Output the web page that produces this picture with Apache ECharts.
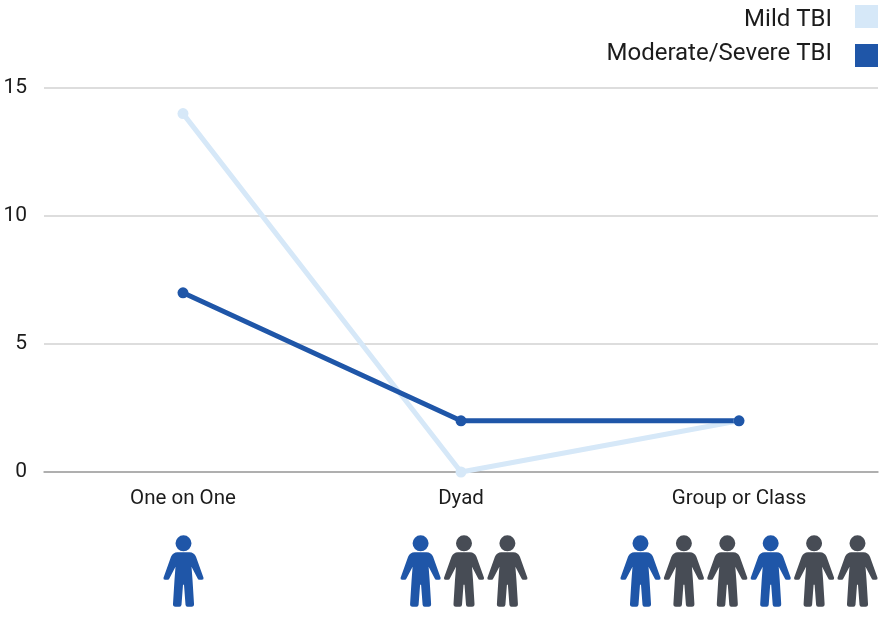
<!DOCTYPE html>
<html>
<head>
<meta charset="utf-8">
<style>
  html, body { margin: 0; padding: 0; background: #fff; }
  #chart { width: 882px; height: 621px; }
</style>
<script src="https://cdn.jsdelivr.net/npm/echarts@6/dist/echarts.min.js"></script>
</head>
<body>
<div id="chart"></div>
<script>
const categories = ['One on One', 'Dyad', 'Group or Class']
const mildTbi = [14, 0, 2]
const severeTbi = [7, 2, 2]
const yTicks = [0, 5, 10, 15]
// b = blue figure, g = grey figure, one row per category
const people = [['b'], ['b', 'g', 'g'], ['b', 'g', 'g', 'b', 'g', 'g']]

const BLUE = '#1f56a8'
const LIGHT = '#d6e8f8'
const GREY = '#474c55'
const FONT = 'Roboto'
const INK = '#1c1c1c'

const personPath = 'M0,-36.5 a8,8 0 1,1 -0.01,0 Z ' +
  'M-6,-19.5 L6,-19.5 Q10.5,-19.5 12.5,-15 L20,6 Q20.5,8 18.5,8 L16,8 Q14.5,8 14,6.5 L8,-5 ' +
  'L9,8 L10.5,32 Q10.8,35 8,35 L4,35 Q2.2,35 2,33 L0.5,13 L-0.5,13 L-2,33 Q-2.2,35 -4,35 ' +
  'L-8,35 Q-10.8,35 -10.5,32 L-9,8 L-8,-5 L-14,6.5 Q-14.5,8 -16,8 L-18.5,8 Q-20.5,8 -20,6 L-12.5,-15 Q-10.5,-19.5 -6,-19.5 Z'

const peopleData = []
people.forEach(function (row, c) {
  row.forEach(function (kind, i) {
    peopleData.push([c, i, row.length, kind === 'b' ? 1 : 0])
  })
})

const chart = echarts.init(document.getElementById('chart'))
chart.setOption({
  backgroundColor: '#fff',
  animation: false,
  textStyle: { fontFamily: FONT },
  legend: {
    orient: 'vertical',
    padding: 0,
    right: 4,
    top: 5,
    align: 'right',
    icon: 'rect',
    itemWidth: 23,
    itemHeight: 23,
    itemGap: 10,
    selectedMode: false,
    data: ['Mild TBI', 'Moderate/Severe TBI'],
    formatter: function (name) {
      return name === 'Mild TBI' ? '{m|' + name + '}' : '{s|' + name + '}'
    },
    textStyle: {
      fontFamily: FONT,
      fontSize: 24,
      color: INK,
      padding: [0, 18, 0, 0],
      rich: {
        m: { fontFamily: FONT, fontSize: 24, color: INK, padding: [6, 0, 0, 0] },
        s: { fontFamily: FONT, fontSize: 24, color: INK, padding: [0, 0, 4, 0] }
      }
    }
  },
  grid: { left: 44, right: 4, top: 88, bottom: 149 },
  xAxis: {
    type: 'category',
    data: categories,
    axisLine: { show: true, lineStyle: { color: '#a0a0a0', width: 1.5 } },
    axisTick: { show: false },
    axisLabel: { fontFamily: FONT, fontSize: 20.5, color: INK, margin: 16 }
  },
  yAxis: {
    type: 'value',
    min: yTicks[0],
    max: yTicks[yTicks.length - 1],
    interval: 5,
    axisLine: { show: false },
    axisTick: { show: false },
    axisLabel: { fontFamily: FONT, fontSize: 21, color: INK, margin: 17 },
    splitLine: { lineStyle: { color: '#d2d2d2', width: 1.5 } }
  },
  series: [
    {
      name: 'Mild TBI',
      type: 'line',
      data: mildTbi,
      symbol: 'circle',
      symbolSize: 11,
      lineStyle: { color: LIGHT, width: 5 },
      itemStyle: { color: LIGHT }
    },
    {
      name: 'Moderate/Severe TBI',
      type: 'line',
      data: severeTbi,
      symbol: 'circle',
      symbolSize: 11,
      lineStyle: { color: BLUE, width: 5 },
      itemStyle: { color: BLUE }
    },
    {
      // little people under each category
      type: 'custom',
      clip: false,
      silent: true,
      legendHoverLink: false,
      encode: { x: 0 },
      data: peopleData,
      renderItem: function (params, api) {
        const cat = api.value(0)
        const idx = api.value(1)
        const count = api.value(2)
        const base = api.coord([cat, -3.9])
        const shift = [0.5, 3, 10][cat]
        const x = base[0] + shift + (idx - (count - 1) / 2) * 43.4
        return {
          type: 'path',
          x: x,
          y: base[1],
          shape: {
            pathData: personPath,
            layout: 'center',
            x: -20.2,
            y: -36.5,
            width: 40.4,
            height: 71.5
          },
          style: { fill: api.value(3) ? BLUE : GREY }
        }
      }
    }
  ]
})
</script>
</body>
</html>
